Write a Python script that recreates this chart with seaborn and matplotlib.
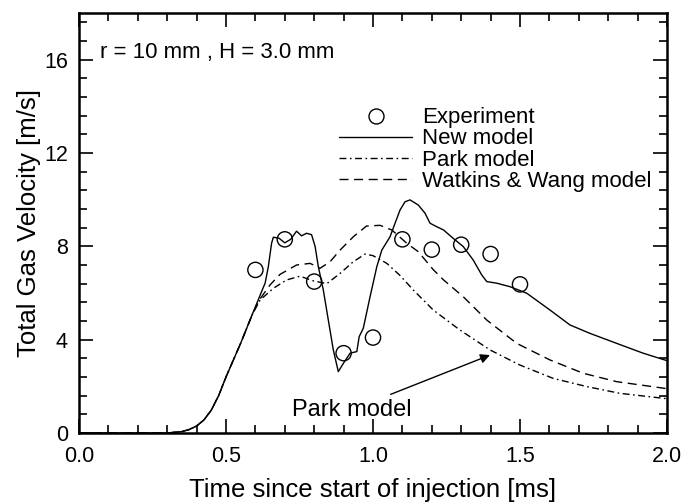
import matplotlib
matplotlib.use("Agg")
import matplotlib.pyplot as plt
from matplotlib.lines import Line2D
from matplotlib.ticker import MultipleLocator
import seaborn as sns

# ---- data ----
exp_t = [0.6, 0.7, 0.8, 0.9, 1.0, 1.1, 1.2, 1.3, 1.4, 1.5]
exp_v = [6.99, 8.30, 6.49, 3.42, 4.09, 8.30, 7.86, 8.07, 7.67, 6.37]

new_t = [0.0, 0.30, 0.35, 0.375, 0.40, 0.425, 0.45, 0.475, 0.50, 0.55, 0.59, 0.621, 0.633,
         0.644, 0.655, 0.661,
         0.68, 0.70, 0.72, 0.74, 0.757, 0.774, 0.791, 0.803, 0.814, 0.831, 0.848, 0.865,
         0.882, 0.90, 0.922, 0.945, 0.953, 0.967, 0.99, 1.013, 1.03, 1.058, 1.075, 1.092,
         1.109, 1.126, 1.154, 1.177, 1.194, 1.217, 1.24, 1.273, 1.307, 1.341, 1.37, 1.387,
         1.421, 1.466, 1.523, 1.602, 1.67, 1.738, 1.829, 1.919, 2.0]
new_v = [0.0, 0.0, 0.06, 0.15, 0.3, 0.56, 0.98, 1.6, 2.4, 3.85, 5.1, 6.06, 6.42,
         7.13, 8.13, 8.39,
         8.35, 8.15, 8.3, 8.65, 8.45, 8.56, 8.5, 8.0, 7.13, 6.13, 4.84, 3.56,
         2.63, 3.0, 3.42, 3.49, 4.13, 4.49, 5.84, 7.13, 7.84, 8.41, 8.99, 9.56,
         9.91, 9.99, 9.77, 9.42, 8.99, 8.84, 8.7, 8.34, 7.99, 7.41, 6.77, 6.49,
         6.42, 6.27, 5.99, 5.27, 4.63, 4.27, 3.84, 3.42, 3.1]

park_t = [0.0, 0.30, 0.35, 0.375, 0.40, 0.425, 0.45, 0.475, 0.50, 0.55, 0.59, 0.616, 0.661,
          0.706, 0.752, 0.797,
          0.843, 0.888, 0.933, 0.973, 1.0, 1.047, 1.092, 1.137, 1.205, 1.296, 1.398, 1.5,
          1.613, 1.727, 1.84, 2.0]
park_v = [0.0, 0.0, 0.06, 0.15, 0.3, 0.56, 0.98, 1.6, 2.4, 3.85, 5.1, 5.7, 6.2,
          6.56, 6.72, 6.52,
          6.4, 6.84, 7.34, 7.67, 7.6, 7.27, 6.75, 6.13, 5.27, 4.41, 3.56, 2.91,
          2.34, 1.99, 1.7, 1.47]

ww_t = [0.0, 0.30, 0.35, 0.375, 0.40, 0.425, 0.45, 0.475, 0.50, 0.55, 0.59, 0.616, 0.65,
        0.684, 0.74, 0.786,
        0.82, 0.854, 0.888, 0.933, 0.978, 1.024, 1.064, 1.115, 1.154, 1.205, 1.24, 1.307,
        1.387, 1.489, 1.602, 1.715, 1.829, 2.0]
ww_v = [0.0, 0.0, 0.06, 0.15, 0.3, 0.56, 0.98, 1.6, 2.4, 3.85, 5.1, 5.75, 6.35,
        6.8, 7.2, 7.27,
        7.06, 7.34, 7.84, 8.41, 8.87, 8.9, 8.7, 8.13, 7.77, 7.0, 6.56, 5.84,
        4.84, 3.84, 3.13, 2.56, 2.2, 1.9]

labels = ["Experiment", "New model", "Park model", "Watkins & Wang model"]
x_ticks = [0.0, 0.5, 1.0, 1.5, 2.0]
y_ticks = [0, 4, 8, 12, 16]

# ---- style ----
sns.set_style("ticks")
plt.rcParams['font.family'] = ['Liberation Sans', 'DejaVu Sans']
plt.rcParams['text.color'] = 'black'
plt.rcParams['axes.labelcolor'] = 'black'
plt.rcParams['xtick.color'] = 'black'
plt.rcParams['ytick.color'] = 'black'

fig = plt.figure(figsize=(6.86, 5.04), dpi=100)
ax = fig.add_axes([79 / 686, 1 - 433 / 504, 588 / 686, 420 / 504])

LW = 1.0
DASH = (0, (6.5, 4.0))
DASHDOT = (0, (5.0, 2.5, 1.2, 2.5))

sns.lineplot(x=new_t, y=new_v, ax=ax, color="black", lw=LW, linestyle="-")
sns.lineplot(x=park_t, y=park_v, ax=ax, color="black", lw=LW, linestyle=DASHDOT)
sns.lineplot(x=ww_t, y=ww_v, ax=ax, color="black", lw=LW, linestyle=DASH)
sns.scatterplot(x=exp_t, y=exp_v, ax=ax, s=120, facecolor="none", edgecolor="black",
                linewidth=1.0, zorder=5)

ax.set_xlim(0, 2.0)
ax.set_ylim(0, 18)
ax.set_xticks(x_ticks)
ax.set_xticklabels([f"{v:.1f}" for v in x_ticks])
ax.set_yticks(y_ticks)
ax.set_yticklabels([str(v) for v in y_ticks])
ax.xaxis.set_minor_locator(MultipleLocator(0.1))
ax.yaxis.set_minor_locator(MultipleLocator(0.8))
ax.tick_params(which="both", direction="in", top=True, right=True, width=1.2,
               colors="black", labelcolor="black")
ax.tick_params(which="major", length=10, labelsize=15.5)
ax.tick_params(which="minor", length=5.5)
ax.tick_params(axis="x", which="major", pad=9)
ax.tick_params(axis="y", which="major", pad=8)
for s in ax.spines.values():
    s.set_linewidth(1.8)
    s.set_color("black")

ax.set_xlabel("Time since start of injection [ms]", fontsize=18.5, labelpad=8, color="black")
ax.set_ylabel("Total Gas Velocity [m/s]", fontsize=18.5, labelpad=2, color="black")

ax.text(0.072, 16.3, "r = 10 mm , H = 3.0 mm", fontsize=16, va="center", ha="left",
        color="black")

ax.annotate("Park model", xy=(1.398, 3.34), xytext=(0.725, 1.0), fontsize=17,
            ha="left", va="center", color="black",
            arrowprops=dict(arrowstyle="-|>", color="black", lw=1.0,
                            mutation_scale=14, shrinkA=2, shrinkB=0))

handles = [
    Line2D([], [], marker="o", linestyle="none", markerfacecolor="none",
           markeredgecolor="black", markersize=10.8, markeredgewidth=1.0),
    Line2D([], [], color="black", lw=LW, linestyle="-"),
    Line2D([], [], color="black", lw=LW, linestyle=DASHDOT),
    Line2D([], [], color="black", lw=LW, linestyle=DASH),
]
leg = ax.legend(handles, labels, loc="upper left", bbox_to_anchor=(0.442, 0.775),
                frameon=False, fontsize=16, handlelength=3.3, handletextpad=0.45,
                labelspacing=0.0, borderpad=0, borderaxespad=0)
for t in leg.get_texts():
    t.set_color("black")

fig.savefig("out.png", dpi=100)
